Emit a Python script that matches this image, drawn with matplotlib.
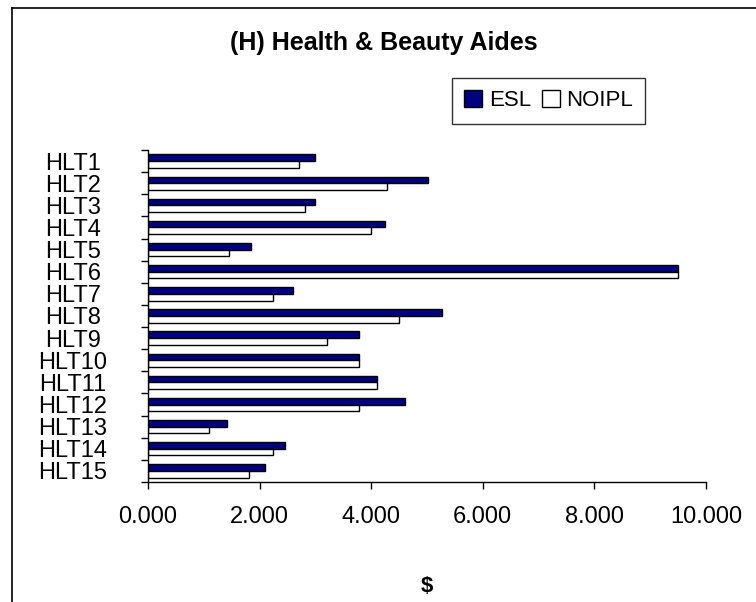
import matplotlib
matplotlib.use("Agg")
import matplotlib.pyplot as plt
from matplotlib.lines import Line2D
from matplotlib.patches import Patch
import numpy as np

plt.rcParams['font.family'] = ['Liberation Sans', 'DejaVu Sans']

categories = ["HLT1", "HLT2", "HLT3", "HLT4", "HLT5", "HLT6", "HLT7", "HLT8",
              "HLT9", "HLT10", "HLT11", "HLT12", "HLT13", "HLT14", "HLT15"]
esl = [3.00, 5.01, 3.00, 4.25, 1.85, 9.50, 2.60, 5.26, 3.79, 3.79, 4.11, 4.61, 1.42, 2.46, 2.10]
noipl = [2.71, 4.29, 2.81, 4.00, 1.45, 9.50, 2.24, 4.49, 3.21, 3.78, 4.10, 3.78, 1.09, 2.24, 1.81]
xticks = [0, 2, 4, 6, 8, 10]
xtick_labels = ["0.000", "2.000", "4.000", "6.000", "8.000", "10.000"]

W, H = 756, 602
fig = plt.figure(figsize=(W / 100, H / 100), dpi=100)
ax = fig.add_axes([148 / W, 120 / H, (706 - 148) / W, (482 - 150) / H])

n = len(categories)
y = np.arange(n)
h = 0.30
ax.barh(y - h / 2, esl, height=h, color="#000080", edgecolor="black", linewidth=1.0)
ax.barh(y + h / 2, noipl, height=h, color="white", edgecolor="black", linewidth=1.0)

ax.set_ylim(n - 0.5, -0.5)
ax.set_xlim(0, 10)
ax.set_yticks(y)
ax.set_yticklabels(categories, fontsize=17, ha='center')
ax.set_yticks(np.arange(n + 1) - 0.5, minor=True)
ax.tick_params(axis='y', which='major', length=0, pad=54)
ax.tick_params(axis='y', which='minor', length=5, width=1, color="black")
ax.set_xticks(xticks)
ax.set_xticklabels(xtick_labels, fontsize=17)
ax.tick_params(axis='x', length=5, width=1, pad=12)
for s in ['top', 'right']:
    ax.spines[s].set_visible(False)
for s in ['left', 'bottom']:
    ax.spines[s].set_linewidth(1.0)
    ax.spines[s].set_color("black")

ax.set_xlabel("$", fontsize=16, fontweight='bold', labelpad=35)

fig.text(384 / W, 1 - 43 / H, "(H) Health & Beauty Aides", ha='center', va='center',
         fontsize=18, fontweight='bold')

handles = [Patch(facecolor="#000080", edgecolor="black", label="ESL"),
           Patch(facecolor="white", edgecolor="black", label="NOIPL")]
leg = fig.legend(handles=handles, loc='upper left', bbox_to_anchor=(452 / W, 1 - 78 / H),
                 ncol=2, fontsize=16, frameon=True, fancybox=False, shadow=False,
                 handlelength=0.8, handleheight=0.8, handletextpad=0.3, columnspacing=0.5,
                 borderpad=0.55, borderaxespad=0)
leg.get_frame().set_edgecolor("black")
leg.get_frame().set_linewidth(1.0)

# outer chart border (partially cropped)
fig.add_artist(Line2D([12 / W, 12 / W], [0, 1 - 8 / H], color="black", lw=1.2, transform=fig.transFigure))
fig.add_artist(Line2D([12 / W, 1], [1 - 8 / H, 1 - 8 / H], color="black", lw=1.2, transform=fig.transFigure))

fig.savefig("out.png", dpi=100, facecolor="white")
